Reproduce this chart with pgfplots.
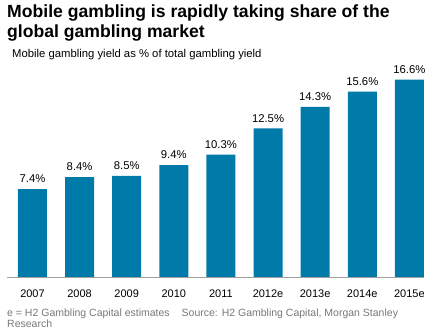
\documentclass[border=0pt]{standalone}
\usepackage{pgfplots}
\pgfplotsset{compat=1.18}
\usepackage{fontspec}
\setmainfont{Liberation Sans}
\definecolor{barblue}{RGB}{0,122,168}
\definecolor{footgray}{RGB}{120,120,120}
\definecolor{axgray}{RGB}{160,160,160}
\begin{document}
\begin{tikzpicture}[x=1pt,y=1pt]
\path[use as bounding box] (0,0) rectangle (433,336);
\node[anchor=base west, inner sep=0pt, font=\fontsize{17.6}{20}\selectfont\bfseries] at (7,318) {Mobile gambling is rapidly taking share of the};
\node[anchor=base west, inner sep=0pt, font=\fontsize{17.6}{20}\selectfont\bfseries] at (7,298) {global gambling market};
\node[anchor=base west, inner sep=0pt, font=\fontsize{11.3}{12}\selectfont] at (12,278) {Mobile gambling yield as \% of total gambling yield};
\begin{axis}[
  at={(7pt,59pt)}, anchor=south west,
  scale only axis, width=417pt, height=200pt,
  xmin=-0.541, xmax=8.31, ymin=0, ymax=16.82,
  axis y line=none,
  axis x line*=bottom,
  x axis line style={draw=axgray, line width=0.9pt, -},
  xtick={0,...,8},
  xticklabels={2007,2008,2009,2010,2011,2012e,2013e,2014e,2015e},
  major tick length=0pt,
  xticklabel style={anchor=base, yshift=-20.8pt, font=\fontsize{11}{13}\selectfont},
  ybar, bar width=29pt,
  nodes near coords={\pgfmathprintnumber[fixed,fixed zerofill,precision=1,assume math mode=true]{\pgfplotspointmeta}\%},
  every node near coord/.append style={anchor=base, inner sep=0pt, yshift=6.3pt, font=\fontsize{11.3}{13}\selectfont, text=black},
  clip=false,
]
\addplot[fill=barblue, draw=none] coordinates {
(0,7.4) (1,8.4) (2,8.5) (3,9.4) (4,10.3) (5,12.5) (6,14.3) (7,15.6) (8,16.6)
};
\end{axis}
\node[anchor=base west, inner sep=0pt, text=footgray, font=\fontsize{10.5}{12}\selectfont] at (7,19.3) {e = H2 Gambling Capital estimates\hspace{12pt}Source: H2 Gambling Capital, Morgan Stanley};
\node[anchor=base west, inner sep=0pt, text=footgray, font=\fontsize{10.5}{12}\selectfont] at (7,8) {Research};
\end{tikzpicture}
\end{document}
